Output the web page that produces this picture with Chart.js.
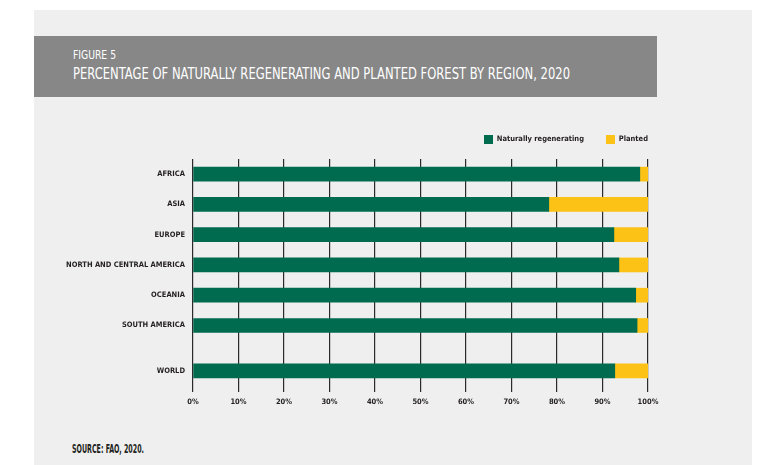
<!DOCTYPE html>
<html>
<head>
<meta charset="utf-8">
<script src="https://cdn.jsdelivr.net/npm/chart.js@4"></script>
<style>
  html, body { margin: 0; padding: 0; background: #fff; }
  #page { position: relative; width: 780px; height: 465px; overflow: hidden; }
  #panel { position: absolute; left: 34px; top: 10px; width: 718px; height: 455px; background: #efefef; }
  #band { position: absolute; left: 34px; top: 36px; width: 623px; height: 61px; background: #878787; }
  .txt { position: absolute; white-space: nowrap; transform-origin: 0 0;
         font-family: "DejaVu Sans Condensed", "Liberation Sans Narrow", sans-serif; }
  #fig { left: 73px; top: 48px; font-size: 12px; color: #fff; }
  #title { left: 73px; top: 64px; font-size: 16.5px; color: #fff; }
  #source { left: 72px; top: 442px; font-size: 12px; font-weight: bold; color: #231f20; }
  #chart { position: absolute; left: 0; top: 0; }
</style>
</head>
<body>
<div id="page">
  <div id="panel"></div>
  <div id="band"></div>
  <div class="txt" id="fig" data-w="43">FIGURE 5</div>
  <div class="txt" id="title" data-w="497">PERCENTAGE OF NATURALLY REGENERATING AND PLANTED FOREST BY REGION, 2020</div>
  <div class="txt" id="source" data-w="72">SOURCE: FAO, 2020.</div>
  <canvas id="chart" width="780" height="465"></canvas>
</div>
<script>
const regions = ['AFRICA', 'ASIA', 'EUROPE', 'NORTH AND CENTRAL AMERICA', 'OCEANIA', 'SOUTH AMERICA'];
const worldLabel = 'WORLD';
const naturalPct = [98.2, 78.2, 92.5, 93.6, 97.3, 97.6];
const plantedPct = [1.8, 21.8, 7.5, 6.4, 2.7, 2.4];
const worldNatural = 92.7;
const worldPlanted = 7.3;
const xTicks = [0, 10, 20, 30, 40, 50, 60, 70, 80, 90, 100];

// squeeze the heading texts to the condensed width of the original
document.querySelectorAll('.txt').forEach(el => {
  const w = el.getBoundingClientRect().width;
  el.style.transform = 'scaleX(' + (Number(el.dataset.w) / w) + ')';
});

// half-step slots so WORLD sits apart from the regions
const labels = [];
const natData = [];
const plaData = [];
function slot(label, a, b) { labels.push(label); natData.push(a); plaData.push(b); }
slot('', null, null);
regions.forEach((r, i) => {
  slot(r, naturalPct[i], plantedPct[i]);
  slot('', null, null);
});
slot('', null, null);
slot(worldLabel, worldNatural, worldPlanted);
slot('', null, null);

const font = "'DejaVu Sans Condensed', 'Liberation Sans Narrow', sans-serif";
const legendGap = 22;

const nudgeLegend = {
  id: 'nudgeLegend',
  afterLayout(chart) {
    const lg = chart.legend;
    lg.top -= 5; lg.bottom -= 5;
    lg.left += legendGap; lg.right += legendGap;
  }
};

new Chart(document.getElementById('chart'), {
  type: 'bar',
  data: {
    labels: labels,
    datasets: [
      { label: 'Naturally regenerating', data: natData, backgroundColor: '#006b4f', barThickness: 14 },
      { label: 'Planted', data: plaData, backgroundColor: '#fcc215', barThickness: 14 }
    ]
  },
  plugins: [nudgeLegend],
  options: {
    indexAxis: 'y',
    responsive: false,
    animation: false,
    layout: { padding: { left: 0, right: 132, top: 118, bottom: 49 } },
    plugins: {
      legend: {
        align: 'end',
        labels: {
          boxWidth: 9, boxHeight: 9, padding: legendGap,
          color: '#231f20', font: { family: font, size: 7.5, weight: 'bold' }
        }
      },
      tooltip: { enabled: false }
    },
    scales: {
      x: {
        stacked: true,
        min: 0, max: 100,
        afterBuildTicks: s => { s.ticks = xTicks.map(v => ({ value: v })); },
        afterFit: s => { s.height = 30; },
        ticks: { callback: v => v + '%', color: '#231f20', padding: 6, font: { family: font, size: 7.5, weight: 'bold' } },
        grid: { color: '#2b2b2b', lineWidth: 1.2, tickLength: 6, drawTicks: true },
        border: { display: false }
      },
      y: {
        stacked: true,
        offset: false,
        afterFit: s => { s.width = 193; },
        ticks: { autoSkip: false, color: '#231f20', padding: 0, font: { family: font, size: 7.5, weight: 'bold' } },
        grid: { display: false },
        border: { display: false }
      }
    }
  }
});
</script>
</body>
</html>
